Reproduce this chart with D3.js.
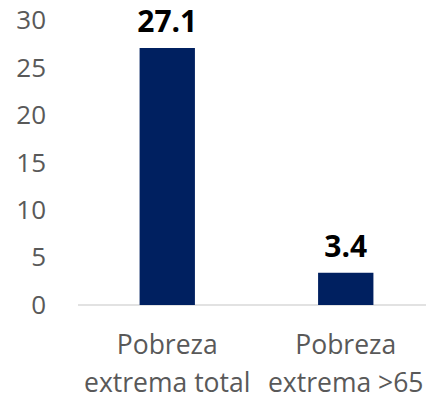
<!DOCTYPE html>
<html><head><meta charset="utf-8">
<script src="https://cdn.jsdelivr.net/npm/d3@7"></script>
<style>body{margin:0;background:#fff}</style>
</head><body>
<script>
const categories = [["Pobreza","extrema total"],["Pobreza","extrema >65"]];
const values = [27.1, 3.4];
const valueLabels = ["27.1","3.4"];
const yTicks = [0,5,10,15,20,25,30];

const W=426,H=400;
const svg=d3.select("body").append("svg").attr("width",W).attr("height",H);
const font="'Open Sans', sans-serif";
const x=d3.scaleBand().domain(d3.range(values.length)).range([78,435]).paddingInner(0.69).paddingOuter(0.345);
const y=d3.scaleLinear().domain([0,30]).range([305,20.5]);

const yAxis=svg.append("g").attr("transform","translate(78,0)")
  .call(d3.axisLeft(y).tickValues(yTicks).tickSize(0).tickPadding(32));
yAxis.select(".domain").remove();
yAxis.selectAll("text").attr("font-family",font).attr("font-size",26).attr("fill","#595959");

svg.append("line").attr("x1",78).attr("x2",435).attr("y1",y(0)).attr("y2",y(0))
  .attr("stroke","#d9d9d9").attr("stroke-width",1.5);

svg.selectAll("rect.bar").data(values).join("rect").attr("class","bar")
  .attr("x",(d,i)=>x(i)).attr("width",x.bandwidth())
  .attr("y",d=>y(d)).attr("height",d=>y(0)-y(d)).attr("fill","#002060");

svg.selectAll("text.val").data(values).join("text").attr("class","val")
  .attr("x",(d,i)=>x(i)+x.bandwidth()/2).attr("y",d=>y(d)-16)
  .attr("text-anchor","middle").attr("font-family",font).attr("font-weight","bold")
  .attr("font-size",30).attr("fill","#000").text((d,i)=>valueLabels[i]);

const xl=svg.selectAll("text.cat").data(categories).join("text").attr("class","cat")
  .attr("text-anchor","middle").attr("font-family",font).attr("font-size",26.5).attr("fill","#595959");
xl.selectAll("tspan").data((d,i)=>d.map(t=>({t,i}))).join("tspan")
  .attr("x",d=>x(d.i)+x.bandwidth()/2).attr("y",(d,j)=>354+j*38).text(d=>d.t);
</script>
</body></html>
